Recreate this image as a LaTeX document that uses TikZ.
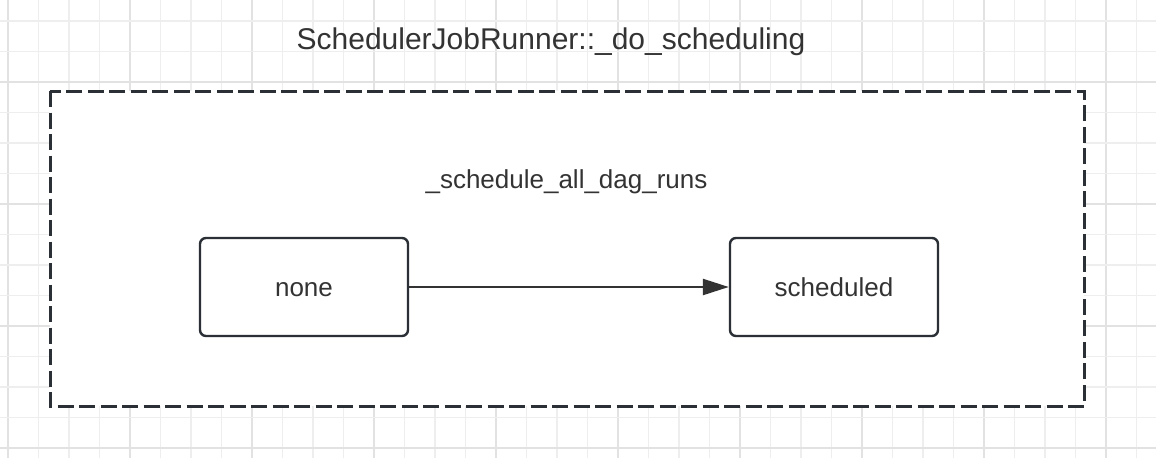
\documentclass[tikz,border=0pt]{standalone}
\usepackage{fontspec}
\setmainfont{Liberation Sans}
\usetikzlibrary{arrows.meta}
\definecolor{ink}{HTML}{2B2F36}
\definecolor{txt}{HTML}{333333}
\definecolor{gminor}{HTML}{EEEEEE}
\definecolor{gmajor}{HTML}{E2E2E2}
\tikzset{
  stepbox/.style={draw=ink, line width=2.4pt, rounded corners=6pt, fill=white,
    minimum width=208pt, minimum height=98pt, inner sep=0pt,
    text height=22pt, text depth=4pt,
    font=\fontsize{26pt}{30pt}\selectfont, text=txt},
  groupbox/.style={draw=ink, line width=3pt, dash pattern=on 16pt off 5.5pt, fill=white},
  flow/.style={draw=txt, line width=2.4pt, -{Triangle[length=26pt,width=16pt]}},
  lbl/.style={font=\fontsize{26pt}{30pt}\selectfont, text=txt, inner sep=0pt, anchor=base},
  ttl/.style={font=\fontsize{30pt}{34pt}\selectfont, text=txt, inner sep=0pt, anchor=base},
}
\begin{document}
\begin{tikzpicture}[x=1pt,y=-1pt]
\useasboundingbox (0,0) rectangle (1156,458);
\fill[white] (0,0) rectangle (1156,458);
% grid
\foreach \k in {0,...,37} {
  \pgfmathsetmacro{\gx}{8+30.5*\k}
  \pgfmathtruncatemacro{\m}{mod(\k,4)}
  \ifnum\m=0
    \draw[gmajor, line width=1.8pt] (\gx,0) -- (\gx,458);
  \else
    \draw[gminor, line width=1.6pt] (\gx,0) -- (\gx,458);
  \fi
}
\foreach \k in {0,...,14} {
  \pgfmathsetmacro{\gy}{21+30.5*\k}
  \pgfmathtruncatemacro{\m}{mod(\k+2,4)}
  \ifnum\m=0
    \draw[gmajor, line width=1.8pt] (0,\gy) -- (1156,\gy);
  \else
    \draw[gminor, line width=1.6pt] (0,\gy) -- (1156,\gy);
  \fi
}
% title
\node[ttl] (title) at (551,49) {SchedulerJobRunner::\_do\_scheduling};
% group
\draw[groupbox] (50,91) rectangle (1084,406);
\node[lbl] (group) at (566.5,188) {\_schedule\_all\_dag\_runs};
% states
\node[stepbox] (none) at (304,287) {none};
\node[stepbox] (sched) at (834,287) {scheduled};
\draw[flow] (none.east) -- (sched.west);
\end{tikzpicture}
\end{document}
